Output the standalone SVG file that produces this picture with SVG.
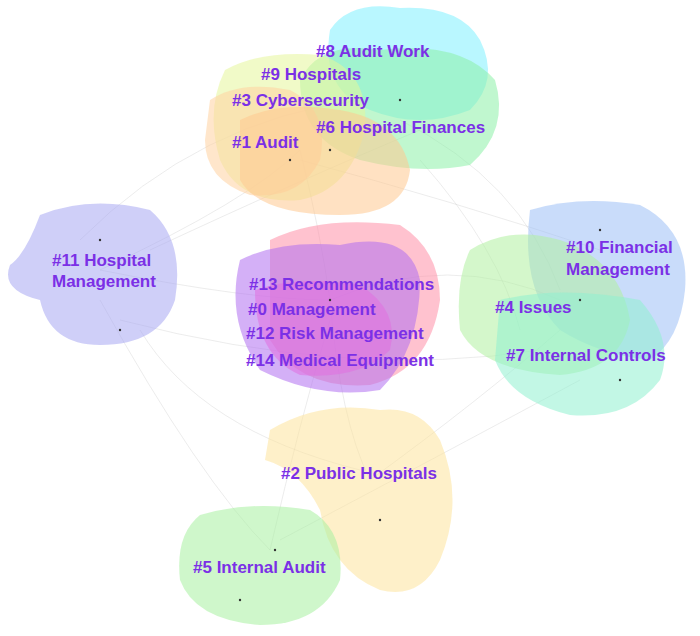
<svg xmlns="http://www.w3.org/2000/svg" width="700" height="636" viewBox="0 0 700 636">
<style>
.b{stroke:none;opacity:0.55}
.lbl{font-family:"Liberation Sans",Arial,sans-serif;font-weight:bold;font-size:17px;fill:#7b30e6}
.e{fill:none;stroke:#c8c8c8;stroke-width:0.5;opacity:0.7}
.d{fill:#333}
</style>
<rect width="700" height="636" fill="#fff"/>
<g id="connectors">
<path class="e" d="M100 270 Q250 200 300 150"/>
<path class="e" d="M100 270 Q250 300 330 300"/>
<path class="e" d="M100 300 Q200 480 270 550"/>
<path class="e" d="M330 300 Q450 250 560 300"/>
<path class="e" d="M330 300 Q340 420 370 480"/>
<path class="e" d="M300 150 Q320 230 330 300"/>
<path class="e" d="M400 120 Q520 180 560 290"/>
<path class="e" d="M370 480 Q480 400 560 330"/>
<path class="e" d="M270 550 Q300 420 330 320"/>
<path class="e" d="M150 250 Q300 180 420 130"/>
<path class="e" d="M120 320 Q350 380 540 350"/>
<path class="e" d="M300 160 Q450 200 600 250"/>
<path class="e" d="M280 540 Q450 450 580 380"/>
<path class="e" d="M80 240 Q200 120 360 100"/>
<path class="e" d="M140 330 Q200 430 360 470"/>
<path class="e" d="M420 160 Q500 250 520 330"/>
</g>
<g id="c8"><path class="b" fill="#7ff0ff" d="M330 30 Q350 0 400 8 Q460 5 480 40 Q500 80 470 110 Q420 130 370 110 Q320 90 330 30Z"/></g>
<g id="c6"><path class="b" fill="#8df0a8" d="M300 80 Q320 40 380 50 Q460 40 495 80 Q510 130 470 165 Q420 175 360 160 Q300 140 300 80Z"/></g>
<g id="c9"><path class="b" fill="#e6f59a" d="M225 70 Q260 50 320 55 Q370 70 365 130 Q350 190 300 200 Q240 205 220 160 Q205 110 225 70Z"/></g>
<g id="c3"><path class="b" fill="#ffd2a0" d="M210 100 Q240 80 290 90 Q330 110 320 160 Q300 200 250 195 Q205 180 205 140Z"/></g>
<g id="c1"><path class="b" fill="#ffc890" d="M240 120 Q280 100 340 110 Q400 120 410 170 Q405 215 340 215 Q260 215 240 180Z"/></g>
<g id="c11"><path class="b" fill="#a8a8f2" d="M40 215 Q90 195 150 210 Q185 240 175 300 Q160 345 100 345 Q50 345 40 300 Q0 290 10 265 Q25 255 40 215Z"/></g>
<g id="c13"><path class="b" fill="#ff90a8" d="M270 240 Q320 215 400 225 Q440 250 440 300 Q430 370 370 385 Q300 390 270 340Z"/></g>
<g id="c0"><path class="b" fill="#b070f0" d="M240 260 Q280 240 340 245 Q410 230 420 280 Q420 350 380 390 Q320 400 260 370 Q225 320 240 260Z"/></g>
<g id="c12"><path class="b" fill="#e070e0" d="M255 290 Q300 275 360 285 Q400 310 390 350 Q360 380 300 375 Q255 355 255 290Z"/></g>
<g id="c10"><path class="b" fill="#9cc0f5" d="M530 210 Q580 195 640 205 Q690 230 685 290 Q680 340 650 360 Q600 355 560 330 Q520 290 530 210Z"/></g>
<g id="c4"><path class="b" fill="#b0f0a0" d="M470 250 Q510 225 560 240 Q620 260 630 320 Q620 370 560 375 Q480 370 460 330 Q455 280 470 250Z"/></g>
<g id="c7"><path class="b" fill="#90f0d0" d="M500 300 Q560 285 640 300 Q675 340 660 380 Q630 420 570 415 Q510 400 495 360Z"/></g>
<g id="c2"><path class="b" fill="#fde39c" d="M270 430 Q320 400 380 410 Q420 405 440 440 Q465 500 440 560 Q420 600 380 590 Q330 570 320 510 Q300 470 265 460Z"/></g>
<g id="c5"><path class="b" fill="#a8f0a0" d="M200 515 Q250 500 310 510 Q345 530 340 580 Q320 625 260 625 Q195 620 180 580 Q175 535 200 515Z"/></g>
<g id="dots">
<circle class="d" cx="290" cy="160" r="1.2"/><circle class="d" cx="330" cy="150" r="1.2"/><circle class="d" cx="400" cy="100" r="1.2"/><circle class="d" cx="100" cy="240" r="1.2"/><circle class="d" cx="120" cy="330" r="1.2"/><circle class="d" cx="330" cy="300" r="1.2"/><circle class="d" cx="580" cy="300" r="1.2"/><circle class="d" cx="620" cy="380" r="1.2"/><circle class="d" cx="380" cy="520" r="1.2"/><circle class="d" cx="275" cy="550" r="1.2"/><circle class="d" cx="240" cy="600" r="1.2"/><circle class="d" cx="600" cy="230" r="1.2"/>
</g>
<g id="labels">
<text class="lbl" x="316" y="57">#8 Audit Work</text>
<text class="lbl" x="261" y="80">#9 Hospitals</text>
<text class="lbl" x="232" y="106">#3 Cybersecurity</text>
<text class="lbl" x="316" y="133">#6 Hospital Finances</text>
<text class="lbl" x="232" y="148">#1 Audit</text>
<text class="lbl" x="52" y="266">#11 Hospital</text>
<text class="lbl" x="52" y="287">Management</text>
<text class="lbl" x="566" y="253">#10 Financial</text>
<text class="lbl" x="566" y="275">Management</text>
<text class="lbl" x="249" y="290">#13 Recommendations</text>
<text class="lbl" x="248" y="315">#0 Management</text>
<text class="lbl" x="495" y="313">#4 Issues</text>
<text class="lbl" x="246" y="339">#12 Risk Management</text>
<text class="lbl" x="506" y="361">#7 Internal Controls</text>
<text class="lbl" x="246" y="366">#14 Medical Equipment</text>
<text class="lbl" x="281" y="479">#2 Public Hospitals</text>
<text class="lbl" x="193" y="573">#5 Internal Audit</text>
</g>
</svg>
